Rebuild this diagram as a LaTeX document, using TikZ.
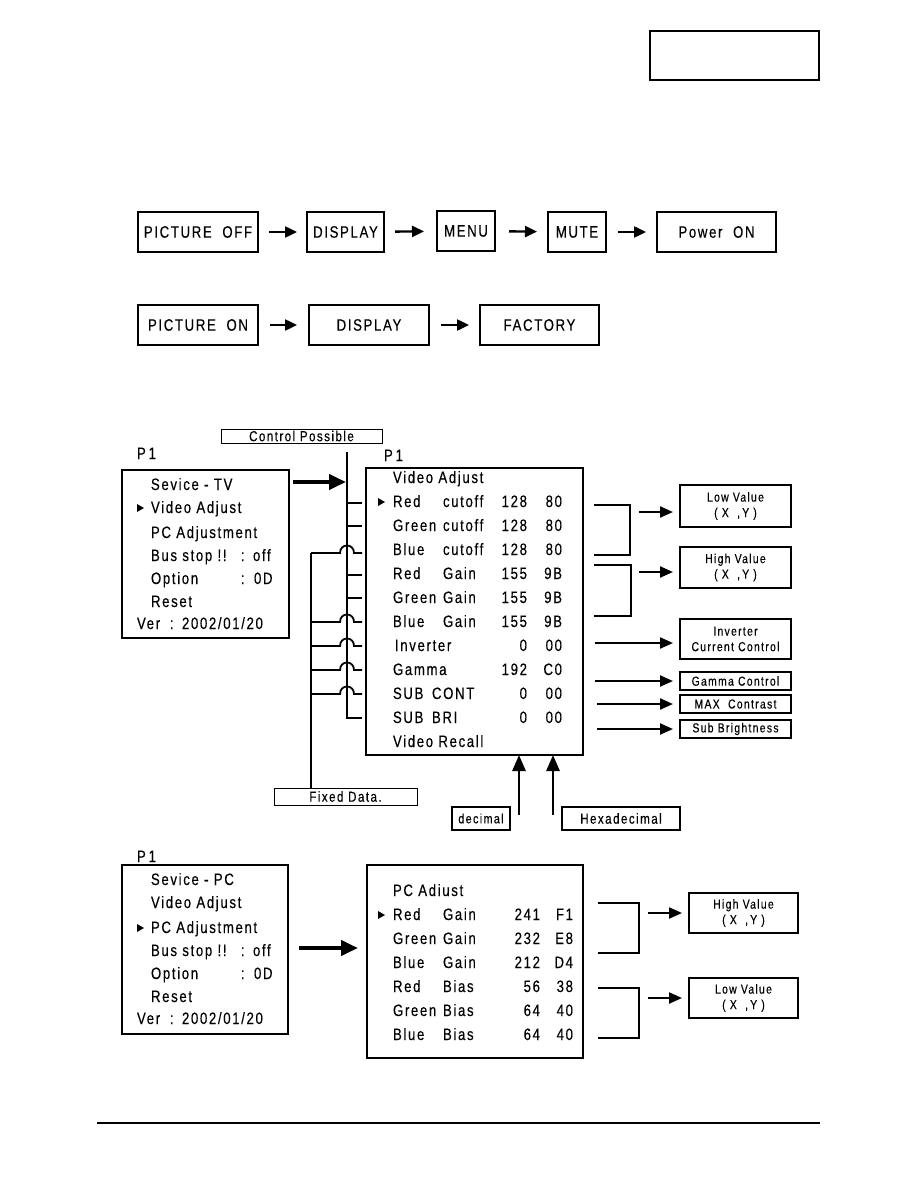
\documentclass[tikz,border=0pt]{standalone}
\usepackage{fontspec}
\setmainfont{Liberation Sans}[FakeStretch=0.8,LetterSpace=10,FakeBold=0.3]
\usetikzlibrary{arrows.meta,calc}
\newcommand\fbig{\fontsize{16.5}{19}\selectfont}
\newcommand\fsml{\fontsize{13}{15.5}\selectfont}
\newcommand\fmid{\fontsize{14.5}{17}\selectfont}
\newcommand\fdec{\fontsize{13.5}{16}\selectfont}
\begin{document}
\begin{tikzpicture}[x=1pt,y=-1pt,
  every node/.style={inner sep=0pt,outer sep=0pt},
  kbox/.style={draw,line width=1.2pt,font=\fbig,minimum height=40pt},
  lbox/.style={draw,line width=1.1pt,font=\fsml,align=center,minimum width=111pt},
  mbox/.style={draw,line width=1.2pt},
  sbox/.style={draw,line width=1.1pt,font=\fmid},
  tl/.style={anchor=base west,font=\fbig},
  tr/.style={anchor=base east,font=\fbig},
  wire/.style={line width=1.8pt},
  brk/.style={line width=2.4pt},
  sarr/.style={line width=2.4pt,-{Triangle[length=12pt,width=11pt]}},
  marr/.style={line width=2.2pt,-{Triangle[length=13pt,width=11pt]}},
  barr/.style={line width=4pt,-{Triangle[length=17pt,width=15pt]}},
  uarr/.style={line width=2.8pt,-{Triangle[length=16pt,width=13pt]}},
  cursor/.pic={\fill (0,-4) -- (7,0) -- (0,4) -- cycle;},
]
\useasboundingbox (0,0) rectangle (918,1190);

% top-right frame
\node[draw,line width=1.2pt,minimum width=169pt,minimum height=49pt] (frame) at (734.5,55.5) {};
\draw[line width=2.6pt] (frame.north east) -- (frame.south east) -- (frame.south west);

% row 1
\node[kbox,minimum width=120pt] (po) at (198,232) {PICTURE\ \ OFF};
\node[kbox,minimum width=77pt] (d1) at (345.5,232) {DISPLAY};
\node[kbox,minimum width=58pt] (mn) at (466,231) {MENU};
\node[kbox,minimum width=58pt] (mu) at (577,232) {MUTE};
\node[kbox,minimum width=119pt] (pw) at (716.5,232) {Power\ \ ON};
\draw[sarr,shorten <=11pt,shorten >=10pt] (po) -- (d1);
\draw[sarr,shorten <=11pt,shorten >=13pt] (d1) -- (mn);
\draw[sarr,shorten <=14pt,shorten >=11pt] (mn) -- (mu);
\draw[sarr,shorten <=12pt,shorten >=11pt] (mu) -- (pw);

% row 2
\node[kbox,minimum width=120pt] (pon) at (198,325) {PICTURE\ \ ON};
\node[kbox,minimum width=120pt] (d2) at (369,325) {DISPLAY};
\node[kbox,minimum width=119pt] (fa) at (539.5,325) {FACTORY};
\draw[sarr,shorten <=12pt,shorten >=12pt] (pon) -- (d2);
\draw[sarr,shorten <=12pt,shorten >=11pt] (d2) -- (fa);

% ---------- TV service section ----------
\node[sbox,line width=1pt,minimum width=161pt,minimum height=14pt] (cp) at (301.5,436) {Control Possible};
\node[tl] (p1a) at (137,459) {P\,1};
\node[mbox,minimum width=167pt,minimum height=168pt] (tvL) at (205.5,554) {};
\node[tl] (tl1) at (151,490) {Sevice - TV};
\pic at (137,508) {cursor};
\node[tl] (tl2) at (151,513) {Video Adjust};
\node[tl] (tl3) at (151,538) {PC Adjustment};
\node[tl] (tl4) at (151,561) {Bus stop !!};
\node[tl] (tl4c) at (241,561) {:};
\node[tl] (tl4v) at (253,561) {off};
\node[tl] (tl5) at (151,584) {Option};
\node[tl] (tl5c) at (241,584) {:};
\node[tl] (tl5v) at (254,584) {0D};
\node[tl] (tl6) at (151,607) {Reset};
\node[tl] (tl7) at (137,629) {Ver};
\node[tl] (tl7c) at (170,629) {:};
\node[tl] (tl7v) at (182,629) {2002/01/20};

\node[tl] (p1b) at (384,461) {P\,1};
\node[mbox,minimum width=217pt,minimum height=287pt] (tvR) at (474.5,611.5) {};
\node[tl] (tr0) at (393,483) {Video Adjust};
\pic at (378,502) {cursor};
\foreach \y/\a/\b/\n/\h in {502/Red/cutoff/128/80, 526/Green/cutoff/128/80, 550/Blue/cutoff/128/80,
  574/Red/Gain/155/9B, 598/Green/Gain/155/9B, 622/Blue/Gain/155/9B}{
  \node[tl] (tra\y) at (393,{\y+5}) {\a};
  \node[tl] (trb\y) at (443,{\y+5}) {\b};
  \node[tr] (trn\y) at (527,{\y+5}) {\n};
  \node[tr] (trh\y) at (562,{\y+5}) {\h};
}
\node[tl] (tri) at (395,651) {Inverter};
\node[tr] (trin) at (527,651) {0};
\node[tr] (trih) at (562,651) {00};
\node[tl] (trg) at (393,675) {Gamma};
\node[tr] (trgn) at (527,675) {192};
\node[tr] (trgh) at (562,675) {C0};
\node[tl] (trs1) at (393,699) {SUB};
\node[tl] (trs1b) at (432,699) {CONT};
\node[tr] (trs1n) at (527,699) {0};
\node[tr] (trs1h) at (562,699) {00};
\node[tl] (trs2) at (393,723) {SUB};
\node[tl] (trs2b) at (432,723) {BRI};
\node[tr] (trs2n) at (527,723) {0};
\node[tr] (trs2h) at (562,723) {00};
\node[tl] (trv) at (393,747) {Video Recall};

% bus of control lines
\coordinate (bt) at (347,452);
\coordinate (bb) at (347,718);
\draw[wire,shorten >=4pt] (bt) -- (bb) -- (bb -| tvR.west);
\foreach \y in {503,526,575,598}{\draw[wire] (347,\y) -- (362,\y);}
\foreach \y in {553,622,646,670,694}{
  \draw[wire] (311,\y) -- (340,\y) .. controls (340,{\y-10}) and (354,{\y-10}) .. (354,\y) -- (362,\y);}
\node[sbox,line width=1pt,minimum width=143pt,minimum height=17pt] (fixed) at (345.5,796.5) {Fixed Data.};
\coordinate (fx) at (311,553);
\draw[wire] (fx) -- (fx |- fixed.north);
\coordinate (ta) at (293,482);
\draw[barr,shorten >=1pt] (ta) -- (ta -| bt);

% right side
\draw[brk] (594,505) -- (630,505) -- (630,555) -- (594,555);
\draw[brk] (594,565) -- (631,565) -- (631,616) -- (594,616);
\node[lbox,minimum height=42pt] (lowA) at (735.5,506) {Low Value\\(\ X\ \ ,\,Y\ )};
\node[lbox,minimum height=41pt] (highA) at (735.5,567.5) {High Value\\(\ X\ \ ,\,Y\ )};
\node[lbox,minimum height=40pt] (invA) at (735.5,639) {Inverter\\Current Control};
\node[lbox,minimum height=18pt] (gamA) at (735.5,681) {Gamma\ Control};
\node[lbox,minimum height=18pt] (maxA) at (735.5,704) {MAX\ \ Contrast};
\node[lbox,minimum height=18pt] (subA) at (735.5,729) {Sub Brightness};
\coordinate (aL) at (639,512); \draw[marr,shorten >=7pt] (aL) -- (aL -| lowA.west);
\coordinate (aH) at (639,572); \draw[marr,shorten >=7pt] (aH) -- (aH -| highA.west);
\coordinate (aI) at (595,643); \draw[marr,shorten >=7pt] (aI) -- (aI -| invA.west);
\coordinate (aG) at (595,681); \draw[marr,shorten >=7pt] (aG) -- (aG -| gamA.west);
\coordinate (aM) at (597,704); \draw[marr,shorten >=7pt] (aM) -- (aM -| maxA.west);
\coordinate (aS) at (597,729); \draw[marr,shorten >=7pt] (aS) -- (aS -| subA.west);

% decimal / hexadecimal
\node[sbox,font=\fdec,minimum width=58pt,minimum height=23pt] (dec) at (481,818.5) {decimal};
\node[sbox,minimum width=118pt,minimum height=23pt] (hex) at (621,818.5) {Hexadecimal};
\coordinate (du) at (519,815); \draw[uarr] (du) -- (du |- tvR.south);
\coordinate (hu) at (553,815); \draw[uarr] (hu) -- (hu |- tvR.south);

% ---------- PC service section ----------
\node[tl] (p1c) at (137,862) {P\,1};
\node[mbox,minimum width=166pt,minimum height=169pt] (pcL) at (205,949.5) {};
\node[tl] (pl1) at (151,885) {Sevice - PC};
\node[tl] (pl2) at (151,908) {Video Adjust};
\pic at (137,928) {cursor};
\node[tl] (pl3) at (151,933) {PC Adjustment};
\node[tl] (pl4) at (151,956) {Bus stop !!};
\node[tl] (pl4c) at (241,956) {:};
\node[tl] (pl4v) at (253,956) {off};
\node[tl] (pl5) at (151,979) {Option};
\node[tl] (pl5c) at (241,979) {:};
\node[tl] (pl5v) at (254,979) {0D};
\node[tl] (pl6) at (151,1002) {Reset};
\node[tl] (pl7) at (137,1024) {Ver};
\node[tl] (pl7c) at (170,1024) {:};
\node[tl] (pl7v) at (182,1024) {2002/01/20};

\node[mbox,minimum width=216pt,minimum height=193pt] (pcR) at (475,961.5) {};
\node[tl] (pr0) at (393,896) {PC Adiust};
\pic at (378,915) {cursor};
\foreach \y/\a/\b/\n/\h in {915/Red/Gain/241/F1, 939/Green/Gain/232/E8, 963/Blue/Gain/212/D4,
  987/Red/Bias/56/38, 1011/Green/Bias/64/40, 1035/Blue/Bias/64/40}{
  \node[tl] (pra\y) at (393,{\y+5}) {\a};
  \node[tl] (prb\y) at (443,{\y+5}) {\b};
  \node[tr] (prn\y) at (540,{\y+5}) {\n};
  \node[tr] (prh\y) at (573,{\y+5}) {\h};
}
\coordinate (pa) at (299,948);
\draw[barr,shorten >=9pt] (pa) -- (pa -| pcR.west);

\draw[brk] (598,903) -- (639,903) -- (639,953) -- (598,953);
\draw[brk] (598,988) -- (639,988) -- (639,1038) -- (598,1038);
\node[lbox,minimum width=109pt,minimum height=40pt] (highB) at (743.5,913) {High Value\\(\ X\ \ ,\,Y\ )};
\node[lbox,minimum width=109pt,minimum height=40pt] (lowB) at (743.5,998) {Low Value\\(\ X\ \ ,\,Y\ )};
\coordinate (bH) at (648,913); \draw[marr,shorten >=7pt] (bH) -- (bH -| highB.west);
\coordinate (bL) at (648,998); \draw[marr,shorten >=7pt] (bL) -- (bL -| lowB.west);

% footer rule
\coordinate (f1) at (97,1123);
\coordinate (f2) at (820,1123);
\draw[line width=1.3pt] (f1) -- (f2);
\end{tikzpicture}
\end{document}
